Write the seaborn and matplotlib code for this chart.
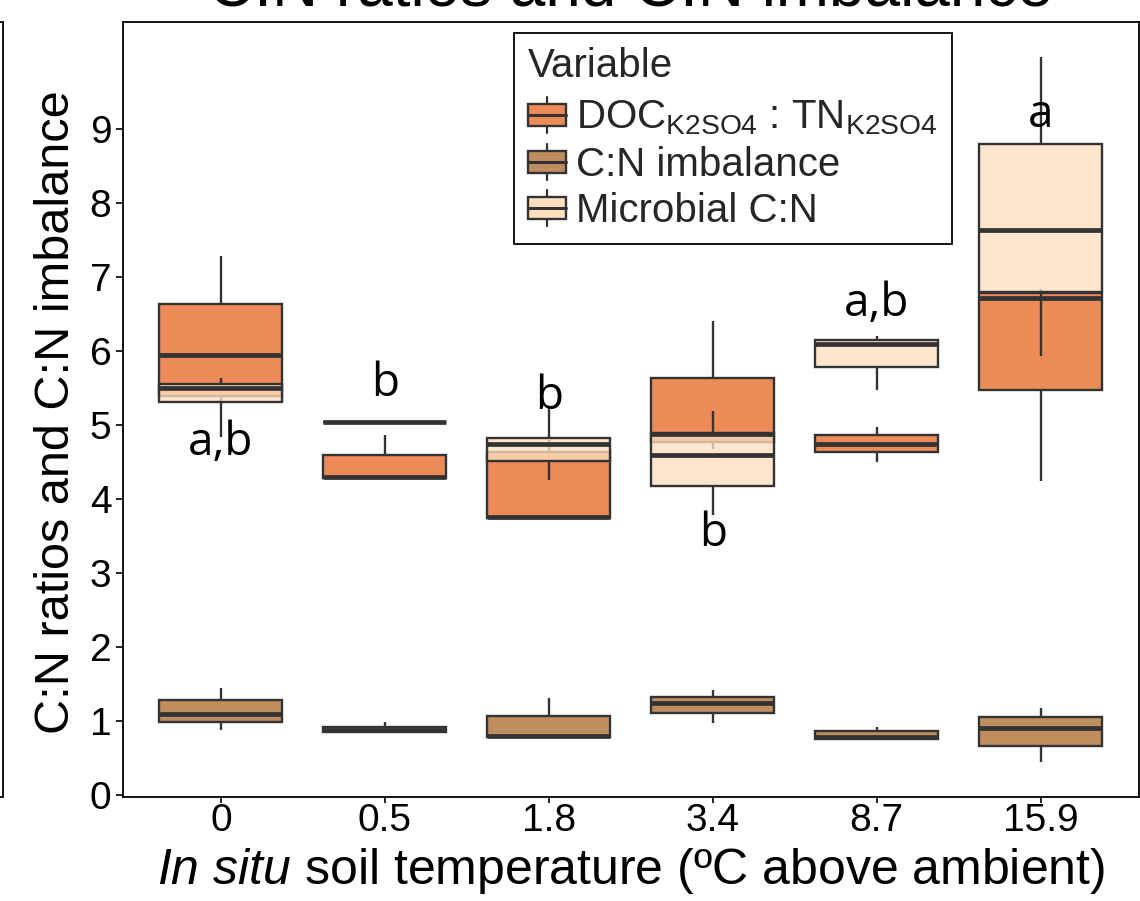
import numpy as np
import pandas as pd
import matplotlib
matplotlib.use("Agg")
import matplotlib.pyplot as plt
import seaborn as sns
from matplotlib.colors import to_rgba
from matplotlib.legend_handler import HandlerBase
from matplotlib.patches import Patch, Rectangle
from matplotlib.lines import Line2D

# Warming levels (categorical x axis)
temps = ["0", "0.5", "1.8", "3.4", "8.7", "15.9"]

# Box summaries per warming level: lower whisker, Q1, median, Q3, upper whisker
doc_tn = [
    [4.84, 5.39, 5.95, 6.63, 7.29],
    [4.28, 4.29, 4.30, 4.59, 4.87],
    [3.73, 3.74, 3.76, 4.63, 4.80],
    [4.67, 4.77, 4.88, 5.63, 6.40],
    [4.50, 4.63, 4.75, 4.87, 4.98],
    [4.25, 5.48, 6.72, 6.78, 6.84],
]
cn_imbalance = [
    [0.88, 0.99, 1.10, 1.28, 1.45],
    [0.84, 0.85, 0.88, 0.92, 0.99],
    [0.78, 0.78, 0.80, 1.07, 1.31],
    [0.97, 1.11, 1.24, 1.33, 1.42],
    [0.74, 0.76, 0.79, 0.86, 0.92],
    [0.45, 0.66, 0.90, 1.05, 1.18],
]
microbial_cn = [
    [5.30, 5.31, 5.50, 5.56, 5.64],
    [5.04, 5.04, 5.04, 5.04, 5.04],
    [4.26, 4.51, 4.75, 4.83, 5.25],
    [3.78, 4.18, 4.59, 4.89, 5.19],
    [5.48, 5.79, 6.09, 6.15, 6.20],
    [5.93, 6.80, 7.63, 8.80, 9.97],
]

variable_names = ["DOC:TN", "C:N imbalance", "Microbial C:N"]
legend_labels = [r"DOC$_{K2SO4}$ : TN$_{K2SO4}$", "C:N imbalance", "Microbial C:N"]
colors = ["#EC8A58", "#C08E5E", "#FDDFBF"]

# Significance letters (Microbial C:N comparison) and their baselines
letters = ["a,b", "b", "b", "b", "a,b", "a"]
letter_y = [4.60, 5.39, 5.21, 3.36, 6.47, 9.03]

# Long-format table built from the summaries
rows = []
for name, summ in zip(variable_names, [doc_tn, cn_imbalance, microbial_cn]):
    for t, vals in zip(temps, summ):
        for v in vals:
            rows.append({"variable": name, "temp": t, "value": v})
df = pd.DataFrame(rows)

sns.set_theme(style="ticks")
plt.rcParams["font.family"] = ["Liberation Sans", "DejaVu Sans"]
plt.rcParams["mathtext.default"] = "regular"
plt.rcParams["mathtext.fontset"] = "custom"
plt.rcParams["mathtext.rm"] = "Liberation Sans"
plt.rcParams["mathtext.it"] = "Liberation Sans:italic"

W, H = 1140, 901
fig = plt.figure(figsize=(W / 100, H / 100), dpi=100)
ax_l, ax_r, ax_t, ax_b = 122.6, 1139, 22, 797
ax = fig.add_axes([ax_l / W, 1 - ax_b / H, (ax_r - ax_l) / W, (ax_b - ax_t) / H])

edge = "#333333"
for name, col in zip(variable_names, colors):
    n0 = len(ax.patches)
    sns.boxplot(
        data=df[df["variable"] == name], x="temp", y="value", order=temps,
        color=col, saturation=1, width=0.75, whis=(0, 100), showcaps=False,
        linecolor=edge, linewidth=1.7, fliersize=0,
        medianprops=dict(linewidth=3.4, color=edge), ax=ax,
    )
    if name == "Microbial C:N":
        for p in ax.patches[n0:]:
            p.set_facecolor(to_rgba(col, 0.78))

# Significance letters
for i, (lab, y) in enumerate(zip(letters, letter_y)):
    ax.text(i, y, lab, ha="center", va="baseline", fontsize=33,
            family=["Open Sans", "DejaVu Sans"], color="black")

ax.set_xlim(-0.6, 5.6)
ax.set_ylim(-0.026, 10.446)
ax.set_yticks(range(10))
ax.set_yticklabels([str(v) for v in range(10)])
ax.tick_params(axis="both", labelsize=28, width=1.2, color="black",
               labelcolor="black", direction="out")
ax.tick_params(axis="y", length=5, pad=3)
ax.tick_params(axis="x", length=4, pad=0)
for s in ax.spines.values():
    s.set_color("black")
    s.set_linewidth(1.3)

ax.set_xlabel(r"$\mathit{In\ situ}$ soil temperature (ºC above ambient)",
              fontsize=36, labelpad=5, color="black")
ax.set_ylabel("C:N ratios and C:N imbalance", fontsize=35, color="black")
ax.yaxis.set_label_coords(-0.043, 0.497)


class BoxKeyHandler(HandlerBase):
    def create_artists(self, legend, orig_handle, xdescent, ydescent,
                       width, height, fontsize, trans):
        fc = orig_handle.get_facecolor()
        x0 = -xdescent
        y0 = -ydescent
        xc = x0 + width / 2
        box = Rectangle((x0, y0 + 0.2 * height), width, 0.6 * height,
                        facecolor=fc, edgecolor=edge, linewidth=1.7, transform=trans)
        med = Line2D([x0, x0 + width], [y0 + 0.5 * height] * 2, color=edge,
                     linewidth=2.2, transform=trans)
        w1 = Line2D([xc, xc], [y0, y0 + 0.2 * height], color=edge,
                    linewidth=1.6, transform=trans)
        w2 = Line2D([xc, xc], [y0 + 0.8 * height, y0 + height], color=edge,
                    linewidth=1.6, transform=trans)
        return [w1, w2, box, med]


handles = [Patch(facecolor=c) for c in colors]
leg = ax.legend(
    handles, legend_labels, title="Variable", loc="upper left",
    bbox_to_anchor=((514 - ax_l) / (ax_r - ax_l), 1 - (33 - ax_t) / (ax_b - ax_t)),
    borderaxespad=0, fontsize=29, title_fontsize=29, alignment="left",
    handler_map={Patch: BoxKeyHandler()}, handlelength=0.95, handleheight=1.0,
    handletextpad=0.25, labelspacing=0.16, borderpad=0.35, fancybox=False,
    framealpha=1, edgecolor="black",
)
leg.get_frame().set_linewidth(1.3)
# a little more room between the legend title and its entries
leg._legend_box.sep = 8.5

# Panel title
fig.text((ax_l + ax_r) / 2 / W, 1 - 6 / H, "C:N ratios and C:N imbalance",
         ha="center", va="baseline", fontsize=46, color="black")

# Edge of the neighbouring panel's frame
fig.patches.append(Rectangle((-0.2, 1 - ax_b / H), 0.2 + 3 / W, (ax_b - ax_t) / H,
                             transform=fig.transFigure, fill=False,
                             edgecolor="black", linewidth=1.3))

fig.savefig("out.png", dpi=100)
